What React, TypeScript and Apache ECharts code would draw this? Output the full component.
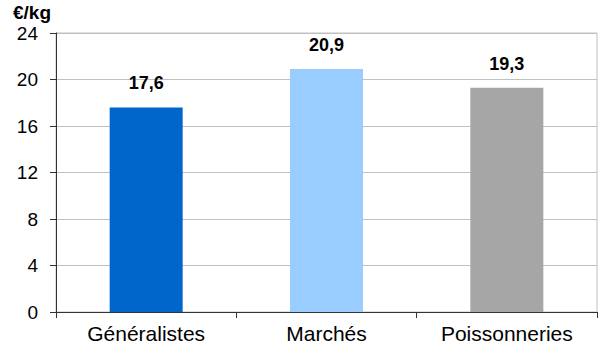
import React, { useEffect, useRef } from "react";
import * as echarts from "echarts";

const categories = ["Généralistes", "Marchés", "Poissonneries"];
const values = [17.6, 20.9, 19.3];
const barColors = ["#0066CC", "#99CCFF", "#A6A6A6"];
const unitLabel = "€/kg";

export default function App() {
  const ref = useRef<HTMLDivElement>(null);
  useEffect(() => {
    if (!ref.current) return;
    const chart = echarts.init(ref.current, undefined, { renderer: "svg" });
    chart.setOption({
      animation: false,
      grid: {
        left: 56,
        right: 4,
        top: 33,
        bottom: 39,
        show: true,
        borderColor: "#C0C0C0",
        borderWidth: 1,
      },
      graphic: [
        {
          type: "text",
          left: 13,
          top: 3,
          style: {
            text: unitLabel,
            font: "bold 19px 'Liberation Sans', Arial, sans-serif",
            fill: "#000",
          },
        },
      ],
      xAxis: {
        type: "category",
        data: categories,
        axisLine: { lineStyle: { color: "#333", width: 1 } },
        axisTick: { show: true, length: 6, lineStyle: { color: "#333" } },
        axisLabel: {
          color: "#000",
          fontSize: 21,
          fontFamily: "'Liberation Sans', Arial, sans-serif",
          margin: 11,
        },
      },
      yAxis: {
        type: "value",
        min: 0,
        max: 24,
        interval: 4,
        axisLine: { show: true, lineStyle: { color: "#333", width: 1 } },
        axisTick: { show: true, length: 6, lineStyle: { color: "#333" } },
        axisLabel: {
          color: "#000",
          fontSize: 19,
          fontFamily: "'Liberation Sans', Arial, sans-serif",
          margin: 18,
        },
        splitLine: { lineStyle: { color: "#C0C0C0", width: 1 } },
      },
      series: [
        {
          type: "bar",
          barWidth: 73,
          data: values.map((v, i) => ({ value: v, itemStyle: { color: barColors[i] } })),
          label: {
            show: true,
            position: "top",
            distance: 15,
            color: "#000",
            fontWeight: "bold",
            fontSize: 18,
            fontFamily: "'Liberation Sans', Arial, sans-serif",
            formatter: (p: any) => String(p.value).replace(".", ","),
          },
        },
      ],
    });
    return () => chart.dispose();
  }, []);
  return <div ref={ref} style={{ width: 601, height: 351, position: "absolute", left: 0, top: 0 }} />;
}
